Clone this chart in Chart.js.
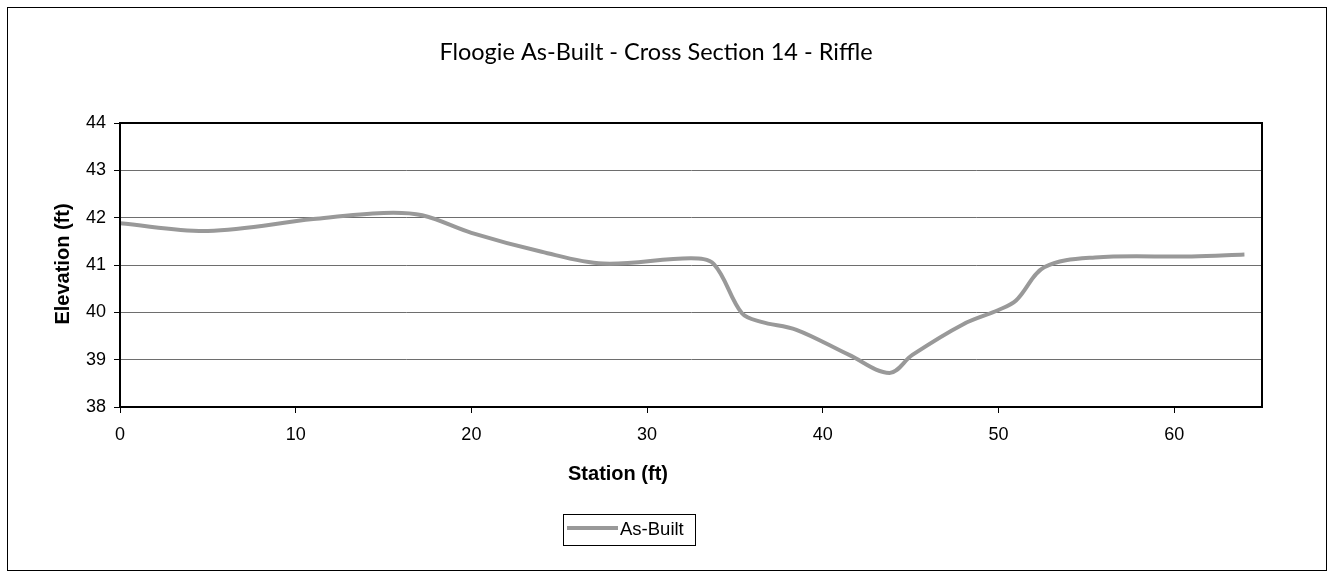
<!DOCTYPE html>
<html>
<head>
<meta charset="utf-8">
<script src="https://cdn.jsdelivr.net/npm/chart.js@4/dist/chart.umd.min.js"></script>
<style>
  html, body { margin: 0; padding: 0; background: #fff; }
  canvas { display: block; }
</style>
</head>
<body>
<canvas id="xsChart" width="1333" height="578"></canvas>
<script>
'use strict';

// survey points
var stations   = [0, 5, 11, 15, 17.2, 20, 24, 27.5, 32.5, 33.8, 35.4, 36.5, 38.5, 41.5, 43.8, 45.1, 48, 50, 51, 52.6, 55.5, 61, 64];
var elevations = [41.88, 41.72, 41.97, 42.10, 42.05, 41.68, 41.28, 41.03, 41.14, 41.02, 39.98, 39.80, 39.63, 39.10, 38.72, 39.10, 39.75, 40.05, 40.25, 40.95, 41.16, 41.18, 41.22];
var xTicks = [0, 10, 20, 30, 40, 50, 60];
var yTicks = [38, 39, 40, 41, 42, 43, 44];

var titleText = 'Floogie As-Built - Cross Section 14 - Riffle';
var xTitle = 'Station (ft)';
var yTitle = 'Elevation (ft)';
var seriesName = 'As-Built';
var lineColor = '#999999';
var arial = '"Liberation Sans", Arial, sans-serif';

var points = stations.map(function (s, i) { return { x: s, y: elevations[i] }; });

// Excel-like frame, title, axis titles and legend box
var excelFrame = {
    id: 'excelFrame',
    beforeDraw: function (chart) {
        var ctx = chart.ctx;
        ctx.save();
        ctx.fillStyle = '#fff';
        ctx.fillRect(0, 0, chart.width, chart.height);
        ctx.strokeStyle = '#000';
        ctx.lineWidth = 1;
        ctx.strokeRect(7.5, 7.5, 1319, 563);
        ctx.restore();
    },
    afterDraw: function (chart) {
        var ctx = chart.ctx;
        var a = chart.chartArea;
        ctx.save();

        ctx.strokeStyle = '#000';
        ctx.lineWidth = 2;
        ctx.strokeRect(a.left, a.top, a.right - a.left, a.bottom - a.top);

        ctx.fillStyle = '#000';
        ctx.textAlign = 'center';
        ctx.textBaseline = 'middle';
        ctx.font = '23.5px Lato, "Open Sans", sans-serif';
        ctx.fillText(titleText, 656, 52);

        ctx.font = 'bold 20px ' + arial;
        ctx.fillText(xTitle, 618, 474);

        ctx.save();
        ctx.translate(63, 264);
        ctx.rotate(-Math.PI / 2);
        ctx.fillText(yTitle, 0, 0);
        ctx.restore();

        // legend
        ctx.lineWidth = 1;
        ctx.strokeRect(563.5, 514.5, 132, 31);
        ctx.strokeStyle = lineColor;
        ctx.lineWidth = 4;
        ctx.beginPath();
        ctx.moveTo(567, 528);
        ctx.lineTo(618, 528);
        ctx.stroke();
        ctx.textAlign = 'left';
        ctx.font = '18.5px ' + arial;
        ctx.fillText(chart.data.datasets[0].label, 620, 530);

        ctx.restore();
    }
};

var ctx = document.getElementById('xsChart');
var myChart = new Chart(ctx, {
    type: 'line',
    data: {
        datasets: [
            {
                label: seriesName,
                data: points,
                borderColor: lineColor,
                borderWidth: 4,
                pointRadius: 0,
                tension: 0.35,
                fill: false
            }
        ]
    },
    options: {
        responsive: false,
        animation: false,
        devicePixelRatio: 1,
        layout: { padding: { left: 0, top: 123, right: 71, bottom: 0 } },
        plugins: {
            legend: { display: false },
            title: { display: false },
            tooltip: { enabled: false }
        },
        scales: {
            x: {
                type: 'linear',
                min: 0,
                max: 65,
                afterBuildTicks: function (scale) {
                    scale.ticks = xTicks.map(function (v) { return { value: v }; });
                },
                afterFit: function (scale) { scale.height = 171; },
                ticks: {
                    color: '#000',
                    padding: 11,
                    maxRotation: 0,
                    font: { family: arial, size: 18 }
                },
                grid: {
                    drawOnChartArea: false,
                    tickLength: 6,
                    tickColor: '#000'
                },
                border: { color: '#000', width: 2 }
            },
            y: {
                type: 'linear',
                min: 38,
                max: 44,
                afterBuildTicks: function (scale) {
                    scale.ticks = yTicks.map(function (v) { return { value: v }; });
                },
                afterFit: function (scale) { scale.width = 120; },
                ticks: {
                    color: '#000',
                    padding: 8,
                    font: { family: arial, size: 18 }
                },
                grid: {
                    color: '#6e6e6e',
                    lineWidth: 1,
                    tickLength: 6,
                    tickColor: '#000'
                },
                border: { color: '#000', width: 2 }
            }
        }
    },
    plugins: [excelFrame]
});
</script>
</body>
</html>
